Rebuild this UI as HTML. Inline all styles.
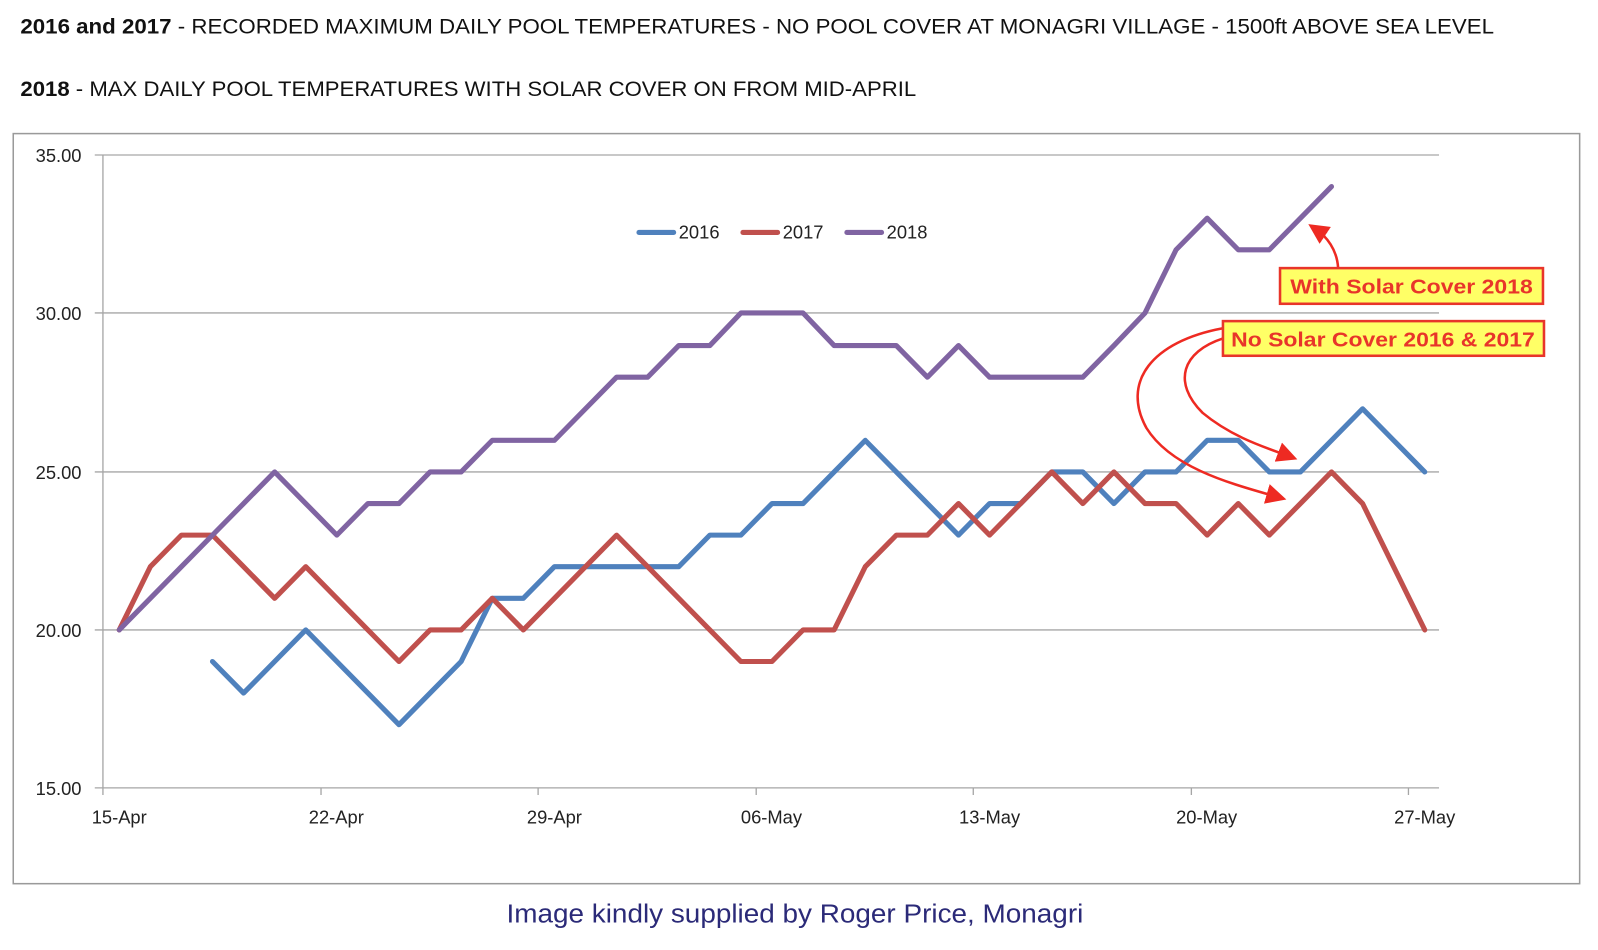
<!DOCTYPE html>
<html><head><meta charset="utf-8"><style>html,body{margin:0;padding:0;background:#fff}svg{display:block}</style></head>
<body>
<svg width="1598" height="950" viewBox="0 0 1568 932" xmlns="http://www.w3.org/2000/svg" font-family="Liberation Sans, sans-serif">
<defs>
<marker id="ah" markerWidth="8" markerHeight="8" refX="5" refY="4" orient="auto" markerUnits="strokeWidth"><path d="M0,0 L8,4 L0,8 z" fill="#ee2a22"/></marker>
</defs>
<text x="20" y="33" font-size="21" textLength="1446" lengthAdjust="spacingAndGlyphs" fill="#111"><tspan font-weight="bold">2016 and 2017</tspan> - RECORDED MAXIMUM DAILY POOL TEMPERATURES - NO POOL COVER AT MONAGRI VILLAGE - 1500ft ABOVE SEA LEVEL</text>
<text x="20" y="94" font-size="21" textLength="879" lengthAdjust="spacingAndGlyphs" fill="#111"><tspan font-weight="bold">2018</tspan> - MAX DAILY POOL TEMPERATURES WITH SOLAR COVER ON FROM MID-APRIL</text>
<rect x="13" y="131" width="1537" height="736" fill="#fff" stroke="#9a9a9a" stroke-width="1.5"/>
<g stroke="#a6a6a6" stroke-width="1.3">
<line x1="93" y1="152" x2="1412" y2="152"/><line x1="93" y1="307" x2="1412" y2="307"/>
<line x1="93" y1="463" x2="1412" y2="463"/><line x1="93" y1="618" x2="1412" y2="618"/>
<line x1="93" y1="773" x2="1412" y2="773"/>
<line x1="101" y1="152" x2="101" y2="773"/>
<line x1="101" y1="773" x2="101" y2="780"/><line x1="315" y1="773" x2="315" y2="780"/><line x1="528" y1="773" x2="528" y2="780"/><line x1="742" y1="773" x2="742" y2="780"/><line x1="955" y1="773" x2="955" y2="780"/><line x1="1169" y1="773" x2="1169" y2="780"/><line x1="1382" y1="773" x2="1382" y2="780"/>
</g>
<g font-size="18" fill="#222" text-anchor="end">
<text x="80" y="159">35.00</text><text x="80" y="314">30.00</text><text x="80" y="470">25.00</text><text x="80" y="625">20.00</text><text x="80" y="780">15.00</text>
</g>
<g font-size="18" fill="#222" text-anchor="middle">
<text x="117" y="808">15-Apr</text><text x="330" y="808">22-Apr</text><text x="544" y="808">29-Apr</text><text x="757" y="808">06-May</text><text x="971" y="808">13-May</text><text x="1184" y="808">20-May</text><text x="1398" y="808">27-May</text>
</g>
<g fill="none" stroke-width="5" stroke-linejoin="round" stroke-linecap="round">
<polyline stroke="#4f81bd" points="208.5,649 239,680 269.5,649 300,618 330.5,649 361,680 391.5,711 422,680 452.5,649 483,587 513.5,587 544,556 574.5,556 605,556 635.5,556 666,556 696.5,525 727,525 757.5,494 788,494 818.5,463 849,432 879.5,463 910,494 940.5,525 971,494 1001.5,494 1032,463 1062.5,463 1093,494 1123.5,463 1154,463 1184.5,432 1215,432 1245.5,463 1276,463 1306.5,432 1337,401 1367.5,432 1398,463"/>
<polyline stroke="#c0504d" points="117,618 147.5,556 178,525 208.5,525 239,556 269.5,587 300,556 330.5,587 361,618 391.5,649 422,618 452.5,618 483,587 513.5,618 544,587 574.5,556 605,525 635.5,556 666,587 696.5,618 727,649 757.5,649 788,618 818.5,618 849,556 879.5,525 910,525 940.5,494 971,525 1001.5,494 1032,463 1062.5,494 1093,463 1123.5,494 1154,494 1184.5,525 1215,494 1245.5,525 1276,494 1306.5,463 1337,494 1367.5,556 1398,618"/>
<polyline stroke="#8064a2" points="117,618 147.5,587 178,556 208.5,525 239,494 269.5,463 300,494 330.5,525 361,494 391.5,494 422,463 452.5,463 483,432 513.5,432 544,432 574.5,401 605,370 635.5,370 666,339 696.5,339 727,307 757.5,307 788,307 818.5,339 849,339 879.5,339 910,370 940.5,339 971,370 1001.5,370 1032,370 1062.5,370 1093,339 1123.5,307 1154,245 1184.5,214 1215,245 1245.5,245 1276,214 1306.5,183"/>
</g>
<g stroke-width="5" stroke-linecap="round">
<line x1="627" y1="228" x2="661" y2="228" stroke="#4f81bd"/>
<line x1="729" y1="228" x2="763" y2="228" stroke="#c0504d"/>
<line x1="831" y1="228" x2="865" y2="228" stroke="#8064a2"/>
</g>
<g font-size="18" fill="#222"><text x="666" y="234">2016</text><text x="768" y="234">2017</text><text x="870" y="234">2018</text></g>
<g fill="none" stroke="#ee2a22" stroke-width="2.5">
<path d="M1313,263 C1312,245 1302,232 1290,224" marker-end="url(#ah)"/>
<path d="M1200,322 C1130,335 1100,375 1125,420 C1150,460 1210,475 1255,488" marker-end="url(#ah)"/>
<path d="M1200,332 C1160,345 1150,375 1180,405 C1210,430 1245,440 1266,448" marker-end="url(#ah)"/>
</g>
<rect x="1256" y="263" width="258" height="35" fill="#ffff66" stroke="#e8352a" stroke-width="2.5"/>
<text x="1385" y="288" font-size="20" font-weight="bold" fill="#e8352a" text-anchor="middle" textLength="238" lengthAdjust="spacingAndGlyphs">With Solar Cover 2018</text>
<rect x="1200" y="315" width="315" height="34" fill="#ffff66" stroke="#e8352a" stroke-width="2.5"/>
<text x="1357" y="340" font-size="20" font-weight="bold" fill="#e8352a" text-anchor="middle" textLength="298" lengthAdjust="spacingAndGlyphs">No Solar Cover 2016 &amp; 2017</text>
<text x="780" y="905" font-size="25" fill="#2b2a78" text-anchor="middle" textLength="566" lengthAdjust="spacingAndGlyphs">Image kindly supplied by Roger Price, Monagri</text>
</svg>
</body></html>
